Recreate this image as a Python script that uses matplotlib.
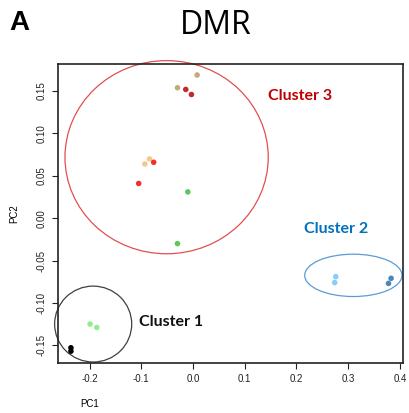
import numpy as np
import matplotlib
matplotlib.use('Agg')
from matplotlib import pyplot as plt
from matplotlib.patches import Ellipse

# PCA scores
pc1 = [0.008, -0.030, -0.014, -0.003, -0.084, -0.093, -0.076, -0.105, -0.010, -0.030,
       -0.199, -0.186, -0.236, -0.236, 0.276, 0.274, 0.383, 0.378]
pc2 = [0.169, 0.154, 0.152, 0.146, 0.070, 0.064, 0.066, 0.041, 0.031, -0.030,
       -0.125, -0.129, -0.153, -0.157, -0.069, -0.076, -0.071, -0.077]
colours = ['#c8a87a', '#c8a87a', '#c42a2a', '#c42a2a', '#f0c890', '#f0c890', '#f03030', '#f03030',
           '#5cc85c', '#5cc85c', '#90ee90', '#90ee90', 'black', 'black',
           '#87cefa', '#87cefa', '#4a86b8', '#4a86b8']

# clusters: centre x, centre y, width, height, colour, label, label position
cl_x = [-0.193, 0.310, -0.051]
cl_y = [-0.125, -0.0675, 0.072]
cl_w = [0.149, 0.188, 0.393]
cl_h = [0.0896, 0.050, 0.228]
cl_col = ['#404040', '#5b9bd5', '#e05050']
cl_txt = ['Cluster 1', 'Cluster 2', 'Cluster 3']
cl_txtcol = ['#111111', '#0070c0', '#c00000']
cl_tx = [-0.105, 0.215, 0.145]
cl_ty = [-0.123, -0.013, 0.144]

plt.rcParams['font.family'] = ['Liberation Sans', 'DejaVu Sans']

fig = plt.figure(figsize=(4.09, 4.13), dpi=100)
ax = fig.add_axes([0.1418, 0.121, 0.8435, 0.724])

ax.scatter(pc1, pc2, c=colours, s=16, linewidths=0, zorder=3)

for i in range(3):
    e = Ellipse((cl_x[i], cl_y[i]), cl_w[i], cl_h[i], fill=False,
                edgecolor=cl_col[i], lw=0.9, clip_on=False)
    ax.add_patch(e)
    ax.text(cl_tx[i], cl_ty[i], cl_txt[i], color=cl_txtcol[i], fontsize=11.5,
            fontweight='bold', family='Lato', va='center', ha='left')

ax.set_xlim(-0.261, 0.406)
ax.set_ylim(-0.171, 0.182)
ax.set_xticks([-0.2, -0.1, 0.0, 0.1, 0.2, 0.3, 0.4])
ax.set_xticklabels(['-0.2', '-0.1', '0.0', '0.1', '0.2', '0.3', '0.4'])
ax.set_yticks([-0.15, -0.10, -0.05, 0.00, 0.05, 0.10, 0.15])
ax.set_yticklabels(['-0.15', '-0.10', '-0.05', '0.00', '0.05', '0.10', '0.15'],
                   rotation=90, va='center')
ax.tick_params(labelsize=7, length=4, width=0.8, colors='#222222', pad=4)
for s in ax.spines.values():
    s.set_linewidth(1.2)
    s.set_color('#222222')

fig.text(90/409, 1-404/413, 'PC1', fontsize=7, ha='center', va='center')
fig.text(14/409, 1-214/413, 'PC2', fontsize=7, ha='center', va='center', rotation=90)
fig.text(216/409, 1-26/413, 'DMR', fontsize=23, family='Open Sans', ha='center', va='center')
fig.text(19/409, 1-23/413, 'A', fontsize=20, fontweight='bold', ha='center', va='center')

fig.savefig('out.png', dpi=100)
